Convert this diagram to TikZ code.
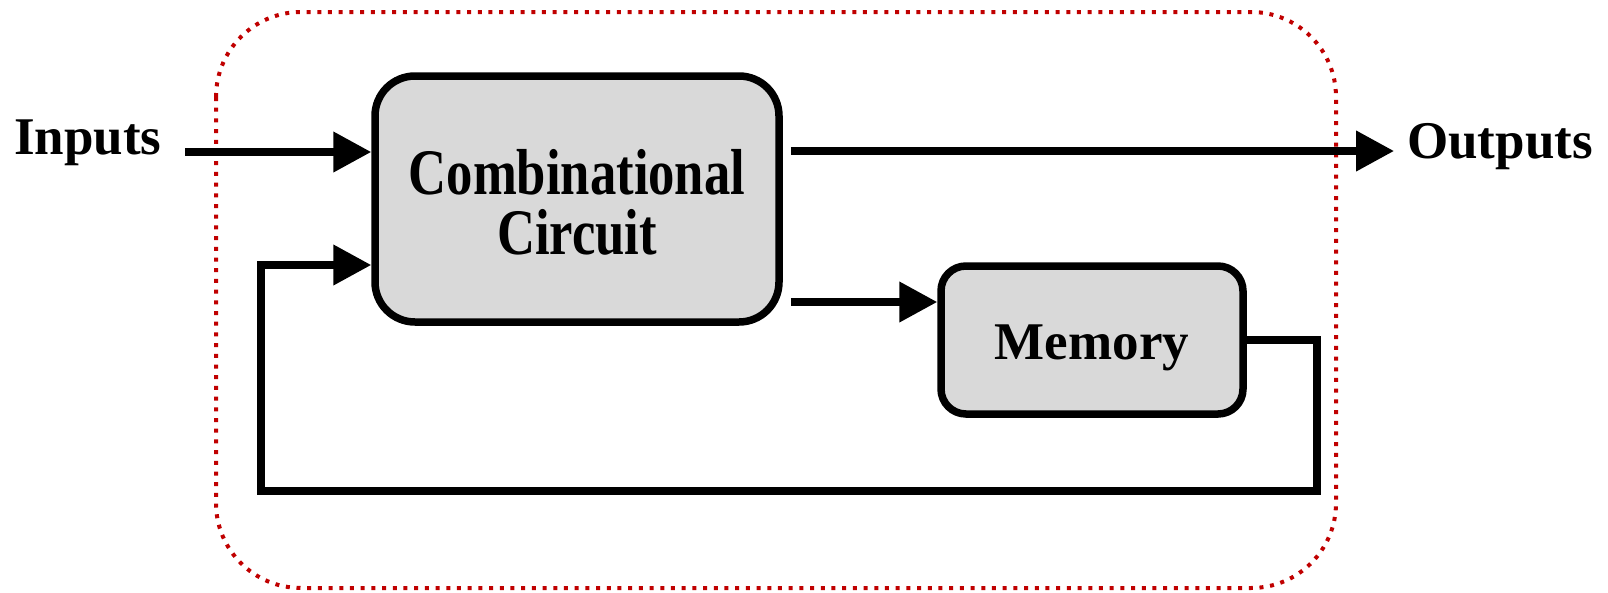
\documentclass[tikz,border=0pt]{standalone}
\usepackage{fontspec}
\setmainfont{Liberation Serif}
\usetikzlibrary{arrows.meta}
\definecolor{boxgray}{HTML}{D9D9D9}
\definecolor{framered}{HTML}{C00000}
\begin{document}
\begin{tikzpicture}[x=1pt,y=-1pt,
  blk/.style={draw=black, line width=7.5pt, fill=boxgray, align=center, inner sep=0pt},
  wire/.style={line width=7.5pt},
  arr/.style={wire, -{Triangle[length=38pt,width=39pt]}},
  lbl/.style={font=\bfseries\fontsize{53}{60}\selectfont, inner sep=0pt, anchor=base west}]
\useasboundingbox (0,0) rectangle (1608,592);

% dotted frame around the sequential circuit
\draw[draw=framered, line width=4pt, dash pattern=on 4pt off 6.7pt, rounded corners=85pt]
  (216,12) rectangle (1336,588);

% blocks
\node[blk, rounded corners=40pt, minimum width=404pt, minimum height=246pt,
      font=\bfseries\fontsize{65}{60}\selectfont, text height=50pt, text depth=60pt]
  (comb) at (577,199)
  {\parbox[t]{360pt}{\centering\scalebox{0.81}[1]{Combinational}\\\scalebox{0.81}[1]{Circuit}}};
\node[blk, rounded corners=25pt, minimum width=302pt, minimum height=148pt,
      font=\bfseries\fontsize{53}{60}\selectfont, text height=38pt, text depth=0pt]
  (mem) at (1092,340) {Memory};

% external labels
\node[lbl] (inputs) at (14,154) {Inputs};
\node[lbl] (outputs) at (1407,158) {Outputs};

% helper points
\coordinate (inStart) at (185,152);
\coordinate (outTip) at (1394,151);
\coordinate (combR) at ([xshift=8pt]comb.east);
\coordinate (c2m) at (0,302);
\coordinate (fbR) at (1317,491);
\coordinate (fbL) at (261,491);
\coordinate (fbIn) at (261,265);

% connectors
\draw[arr] (inStart) -- (inStart -| comb.west);
\draw[arr] (combR |- outTip) -- (outTip);
\draw[arr] (combR |- c2m) -- (mem.west |- c2m);
\draw[arr] (mem.east) -- (mem.east -| fbR) -- (fbR) -- (fbL) -- (fbIn) -- (fbIn -| comb.west);
\end{tikzpicture}
\end{document}
